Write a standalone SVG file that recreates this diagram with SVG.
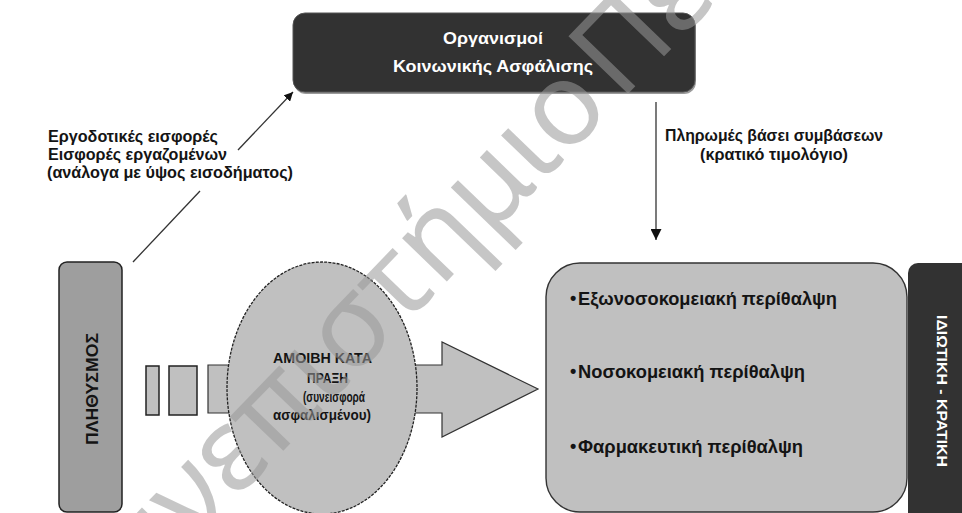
<svg xmlns="http://www.w3.org/2000/svg" width="962" height="513" viewBox="0 0 962 513">
  <defs>
    <style>
      .t { font-family: "Liberation Sans", Arial, sans-serif; fill: #141414; }
      .b { font-weight: bold; }
      .lbl { font-size: 16px; }
      .inv { fill: #ffffff; }
      .box-dark { fill: #323232; stroke: #555; stroke-width: 1; }
      .box-light { fill: #c0c0c0; stroke: #333; stroke-width: 1.4; }
      .conn { stroke: #333; stroke-width: 1.3; fill: none; }
      .wm { font-family: "Noto Sans", "Open Sans", sans-serif; font-size: 116px; fill: #999; opacity: 0.55; }
    </style>
    <marker id="arrow" viewBox="0 0 10 10" refX="10" refY="5" markerWidth="9" markerHeight="9" markerUnits="userSpaceOnUse" orient="auto">
      <path d="M0,0 L10,5 L0,10 z" fill="#111"/>
    </marker>
    <marker id="arrowBig" viewBox="0 0 10 10" refX="10" refY="5" markerWidth="11" markerHeight="11" markerUnits="userSpaceOnUse" orient="auto">
      <path d="M0,0 L10,5 L0,10 z" fill="#111"/>
    </marker>
  </defs>

  <rect width="962" height="513" fill="#ffffff"/>

  <!-- social insurance organisations -->
  <g id="organisations">
    <rect x="294" y="15" width="402" height="79" rx="12" fill="#9a9a9a"/>
    <rect class="box-dark" x="293" y="13" width="402" height="79" rx="12"/>
    <text class="t b inv" x="443" y="44" font-size="17" textLength="100" lengthAdjust="spacingAndGlyphs">Οργανισμοί</text>
    <text class="t b inv" x="393" y="72" font-size="17" textLength="200" lengthAdjust="spacingAndGlyphs">Κοινωνικής Ασφάλισης</text>
  </g>

  <!-- contributions label -->
  <g id="contributions">
    <text class="t b lbl" x="48" y="142" textLength="170" lengthAdjust="spacingAndGlyphs">Εργοδοτικές εισφορές</text>
    <text class="t b lbl" x="48" y="160" textLength="179" lengthAdjust="spacingAndGlyphs">Εισφορές εργαζομένων</text>
    <text class="t b lbl" x="47" y="178" textLength="246" lengthAdjust="spacingAndGlyphs">(ανάλογα με ύψος εισοδήματος)</text>
  </g>

  <!-- payments label -->
  <g id="payments">
    <text class="t b lbl" x="665" y="141" textLength="218" lengthAdjust="spacingAndGlyphs">Πληρωμές βάσει συμβάσεων</text>
    <text class="t b lbl" x="700" y="160" textLength="148" lengthAdjust="spacingAndGlyphs">(κρατικό τιμολόγιο)</text>
  </g>

  <!-- population -->
  <g id="population">
    <rect x="59" y="262" width="63" height="250" rx="8" fill="#9e9e9e" stroke="#222" stroke-width="1.5"/>
    <text class="t b" transform="translate(98,389) rotate(-90)" x="0" y="0" font-size="16" text-anchor="middle" textLength="112" lengthAdjust="spacingAndGlyphs">ΠΛΗΘΥΣΜΟΣ</text>
  </g>

  <!-- striped block arrow -->
  <g id="flow-arrow">
    <rect x="146" y="366" width="13" height="49" fill="#c0c0c0" stroke="#222" stroke-width="1.5"/>
    <rect x="169" y="366" width="28" height="49" fill="#c0c0c0" stroke="#222" stroke-width="1.5"/>
    <path d="M208,365 L442,365 L442,342 L538,389 L442,437 L442,413 L208,413 Z" fill="#c0c0c0" stroke="#333" stroke-width="1.2"/>
  </g>

  <!-- fee for service -->
  <g id="fee-for-service">
    <ellipse cx="322" cy="388" rx="95" ry="126" fill="#c0c0c0" stroke="#222" stroke-width="1.3" stroke-dasharray="3 1.2"/>
    <text class="t b" x="273" y="363" font-size="15" textLength="99" lengthAdjust="spacingAndGlyphs">ΑΜΟΙΒΗ ΚΑΤΑ</text>
    <text class="t b" x="307" y="383" font-size="15" textLength="41" lengthAdjust="spacingAndGlyphs">ΠΡΑΞΗ</text>
    <text class="t b" x="303" y="402" font-size="15" textLength="62" lengthAdjust="spacingAndGlyphs">(συνεισφορά</text>
    <text class="t b" x="273" y="420" font-size="15" textLength="98" lengthAdjust="spacingAndGlyphs">ασφαλισμένου)</text>
  </g>

  <!-- care services -->
  <g id="care">
    <rect class="box-light" x="546" y="263" width="361" height="249" rx="34"/>
    <text class="t b" x="570" y="304" font-size="18">•</text>
    <text class="t b" x="578" y="305" font-size="19" textLength="259" lengthAdjust="spacingAndGlyphs">Εξωνοσοκομειακή περίθαλψη</text>
    <text class="t b" x="570" y="377" font-size="18">•</text>
    <text class="t b" x="578" y="378" font-size="19" textLength="227" lengthAdjust="spacingAndGlyphs">Νοσοκομειακή περίθαλψη</text>
    <text class="t b" x="570" y="452" font-size="18">•</text>
    <text class="t b" x="578" y="453" font-size="19" textLength="225" lengthAdjust="spacingAndGlyphs">Φαρμακευτική περίθαλψη</text>
  </g>

  <!-- private / public -->
  <g id="sector">
    <rect x="908" y="263" width="70" height="262" rx="10" fill="#323232"/>
    <text class="t b inv" transform="translate(937,391) rotate(90)" x="0" y="0" font-size="15" text-anchor="middle" textLength="152" lengthAdjust="spacingAndGlyphs">ΙΔΙΩΤΙΚΗ - ΚΡΑΤΙΚΗ</text>
  </g>

  <!-- connectors -->
  <g id="connectors">
    <line class="conn" x1="133" y1="262" x2="200" y2="191"/>
    <line class="conn" x1="238" y1="150" x2="293" y2="92" marker-end="url(#arrow)"/>
    <line class="conn" x1="656" y1="102" x2="656" y2="240" marker-end="url(#arrowBig)"/>
  </g>

  <!-- watermark -->
  <text class="wm" transform="translate(85,656) rotate(-46)" x="0" y="0">Πανεπιστήμιο<tspan dx="-20"> Πειραιώς</tspan></text>
</svg>
